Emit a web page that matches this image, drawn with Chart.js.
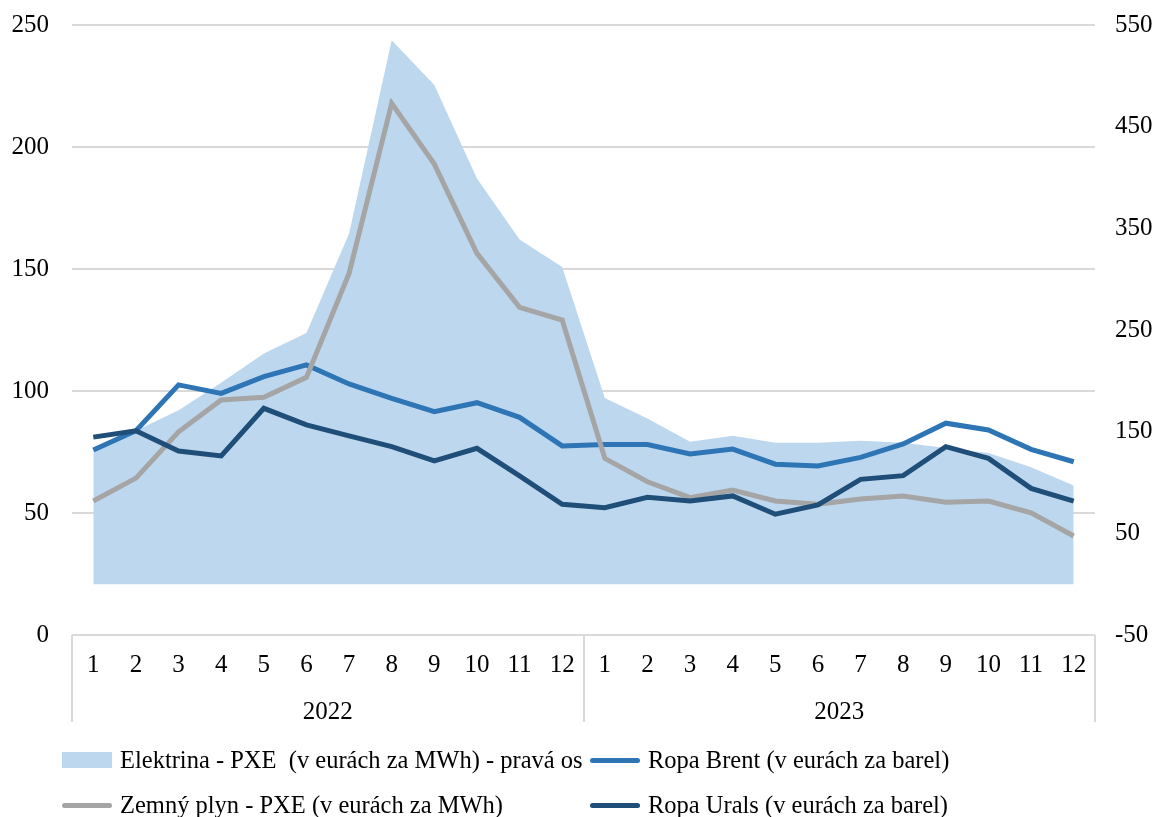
<!DOCTYPE html>
<html>
<head>
<meta charset="utf-8">
<script src="https://cdn.jsdelivr.net/npm/chart.js@4/dist/chart.umd.min.js"></script>
<style>
  body { margin: 0; background: #fff; }
  #wrap { position: relative; width: 1159px; height: 817px; }
  #legend { position: absolute; left: 0; top: 0; font-family: 'Liberation Serif', serif; font-size: 24.5px; color: #000; }
  .item { position: absolute; display: flex; align-items: center; white-space: pre; }
  .swatch { width: 50px; margin-right: 8px; }
</style>
</head>
<body>
<div id="wrap">
  <canvas id="chart" width="1159" height="817"></canvas>
  <div id="legend"></div>
</div>
<script>
'use strict';

const months = ['1','2','3','4','5','6','7','8','9','10','11','12','1','2','3','4','5','6','7','8','9','10','11','12'];
const years = ['2022', '2023'];

// elektrina - prava os
const elektrina = [131, 151, 171, 198, 227, 247, 345, 535, 491, 399, 339, 312, 183, 163, 140, 146, 139, 139, 141, 139, 134, 129, 115, 97];
const brent = [75.8, 83.7, 102.5, 99.0, 105.9, 110.7, 102.9, 97.0, 91.5, 95.2, 89.2, 77.5, 78.1, 78.1, 74.2, 76.2, 70.0, 69.3, 72.8, 78.3, 86.8, 84.0, 76.1, 71.0];
const plyn = [54.9, 64.3, 83.3, 96.3, 97.4, 105.6, 148.2, 217.9, 193.0, 156.4, 134.3, 129.1, 72.4, 62.8, 56.3, 59.4, 54.9, 53.6, 55.7, 57.0, 54.4, 54.9, 50.1, 40.6];
const urals = [81.1, 83.7, 75.4, 73.4, 92.9, 86.1, 81.6, 77.2, 71.4, 76.5, 65.2, 53.6, 52.2, 56.4, 54.9, 57.0, 49.5, 53.3, 63.8, 65.3, 77.2, 72.4, 60.1, 54.9];

const leftTicks = [0, 50, 100, 150, 200, 250];
const rightTicks = [-50, 50, 150, 250, 350, 450, 550];

const FONT = 'Liberation Serif';
const SIZE = 25;

// druhy riadok osi x - roky a zvisle oddelovace
const yearRow = {
  id: 'yearRow',
  afterDraw(chart) {
    const x = chart.scales.x;
    const ctx = chart.ctx;
    const half = (x.getPixelForValue(1) - x.getPixelForValue(0)) / 2;
    const top = chart.chartArea.bottom;
    ctx.save();
    ctx.strokeStyle = '#d9d9d9';
    ctx.lineWidth = 2;
    ctx.beginPath();
    for (let i = 0; i <= years.length; i++) {
      const px = Math.round(x.getPixelForValue(i * 12) - half);
      ctx.moveTo(px, top);
      ctx.lineTo(px, 722);
    }
    ctx.stroke();
    ctx.fillStyle = '#000';
    ctx.font = SIZE + 'px "' + FONT + '"';
    ctx.textAlign = 'center';
    ctx.textBaseline = 'middle';
    years.forEach((y, i) => {
      const cx = (x.getPixelForValue(i * 12) + x.getPixelForValue(i * 12 + 11)) / 2;
      ctx.fillText(y, cx, 712);
    });
    ctx.restore();
  }
};

function renderChart() {
  const ctx = document.getElementById('chart');

  const chart = new Chart(ctx, {
    type: 'line',
    data: {
      labels: months,
      datasets: [{
        label: 'Elektrina - PXE  (v eurách za MWh) - pravá os',
        data: elektrina,
        yAxisID: 'y1',
        fill: 'origin',
        backgroundColor: '#bdd7ee',
        borderWidth: 0,
        pointRadius: 0,
        order: 4
      }, {
        label: 'Ropa Brent (v eurách za barel)',
        data: brent,
        borderColor: '#2e75b6',
        backgroundColor: '#2e75b6',
        borderWidth: 5,
        pointRadius: 0,
        order: 3
      }, {
        label: 'Zemný plyn - PXE (v eurách za MWh)',
        data: plyn,
        borderColor: '#a5a5a5',
        backgroundColor: '#a5a5a5',
        borderWidth: 5,
        pointRadius: 0,
        order: 2
      }, {
        label: 'Ropa Urals (v eurách za barel)',
        data: urals,
        borderColor: '#1f4e79',
        backgroundColor: '#1f4e79',
        borderWidth: 5,
        pointRadius: 0,
        order: 1
      }]
    },
    options: {
      responsive: false,
      animation: false,
      layout: { padding: { top: 25, bottom: 82, left: 0, right: 0 } },
      plugins: {
        legend: { display: false },
        tooltip: { enabled: false }
      },
      scales: {
        x: {
          offset: true,
          grid: { display: false, drawTicks: false },
          border: { display: false },
          ticks: { color: '#000', font: { family: FONT, size: SIZE }, padding: 15, maxRotation: 0, autoSkip: false },
          afterFit: s => { s.height = 100; }
        },
        y: {
          position: 'left',
          min: 0,
          max: 250,
          afterBuildTicks: s => { s.ticks = leftTicks.map(v => ({ value: v })); },
          grid: { color: '#d9d9d9', lineWidth: 2, drawTicks: false },
          border: { display: false },
          ticks: { color: '#000', font: { family: FONT, size: SIZE }, padding: 23 },
          afterFit: s => { s.width = 72; s.paddingTop = 0; s.paddingBottom = 0; }
        },
        y1: {
          position: 'right',
          min: -50,
          max: 550,
          afterBuildTicks: s => { s.ticks = rightTicks.map(v => ({ value: v })); },
          grid: { display: false, drawTicks: false },
          border: { display: false },
          ticks: { color: '#000', font: { family: FONT, size: SIZE }, padding: 20 },
          afterFit: s => { s.width = 64; s.paddingTop = 0; s.paddingBottom = 0; }
        }
      }
    },
    plugins: [yearRow]
  });

  // legenda v dvoch stlpcoch
  const legend = document.getElementById('legend');
  const spots = [[62, 760], [590, 760], [62, 805], [590, 805]];
  chart.data.datasets.forEach((ds, i) => {
    const item = document.createElement('div');
    item.className = 'item';
    item.style.left = spots[i][0] + 'px';
    item.style.top = (spots[i][1] - 15) + 'px';
    item.style.height = '30px';
    const sw = document.createElement('span');
    sw.className = 'swatch';
    if (ds.fill) {
      sw.style.height = '16px';
      sw.style.background = ds.backgroundColor;
    } else {
      sw.style.height = '5px';
      sw.style.borderRadius = '3px';
      sw.style.background = ds.borderColor;
    }
    const tx = document.createElement('span');
    tx.textContent = ds.label;
    item.appendChild(sw);
    item.appendChild(tx);
    legend.appendChild(item);
  });
}

renderChart();
</script>
</body>
</html>
